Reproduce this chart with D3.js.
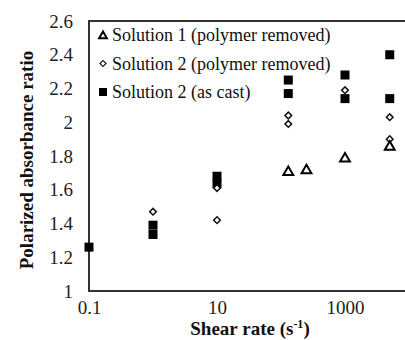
<!DOCTYPE html>
<html>
<head>
<meta charset="utf-8">
<script src="https://cdn.jsdelivr.net/npm/d3@7"></script>
<style>
  body { margin: 0; background: #fff; }
</style>
</head>
<body>
<script>
// data
const s1Rate = [130, 250, 1000, 5000];
const s1Ratio = [1.71, 1.72, 1.79, 1.86];

const s2Rate = [1, 10, 10, 130, 130, 1000, 5000, 5000];
const s2Ratio = [1.47, 1.42, 1.61, 2.04, 1.99, 2.19, 2.03, 1.90];

const castRate = [0.1, 1, 1, 10, 10, 130, 130, 1000, 1000, 5000, 5000];
const castRatio = [1.26, 1.39, 1.335, 1.68, 1.635, 2.25, 2.17, 2.28, 2.14, 2.40, 2.14];

const xTicks = [0.1, 10, 1000];
const yTicks = [1, 1.2, 1.4, 1.6, 1.8, 2, 2.2, 2.4, 2.6];
const legendLabels = ["Solution 1 (polymer removed)", "Solution 2 (polymer removed)", "Solution 2 (as cast)"];

const width = 405, height = 340;
const plotLeft = 89, plotTop = 21, plotRight = 409, plotBottom = 291;
const serif = "'Liberation Serif', 'Times New Roman', monospace";

const svg = d3.select("body").append("svg")
    .attr("width", width)
    .attr("height", height);

const x = d3.scaleLog().domain([0.1, 10000]).range([plotLeft, plotRight]);
const y = d3.scaleLinear().domain([1, 2.6]).range([plotBottom, plotTop]);

// frame
svg.append("rect")
    .attr("x", plotLeft).attr("y", plotTop)
    .attr("width", plotRight - plotLeft).attr("height", plotBottom - plotTop)
    .attr("fill", "none").attr("stroke", "#333").attr("stroke-width", 2);

// axes
const yAxis = svg.append("g")
    .attr("transform", "translate(" + plotLeft + ",0)")
    .call(d3.axisLeft(y).tickValues(yTicks).tickSize(0).tickPadding(16).tickFormat(d => String(+d.toFixed(1))));
const xAxis = svg.append("g")
    .attr("transform", "translate(0," + plotBottom + ")")
    .call(d3.axisBottom(x).tickValues(xTicks).tickSize(0).tickPadding(10).tickFormat(d => String(d)));
[yAxis, xAxis].forEach(g => {
    g.select(".domain").remove();
    g.selectAll("text")
        .style("font-family", serif).style("font-size", "19px")
        .attr("fill", "#222");
});

// axis titles
svg.append("text")
    .attr("transform", "translate(33," + ((plotTop + plotBottom) / 2 + 4) + ") rotate(-90)")
    .attr("text-anchor", "middle")
    .style("font-family", serif).style("font-size", "19px").style("font-weight", "bold")
    .attr("fill", "#111")
    .text("Polarized absorbance ratio");

const xt = svg.append("text")
    .attr("x", 250).attr("y", 335)
    .attr("text-anchor", "middle")
    .style("font-family", serif).style("font-size", "19px").style("font-weight", "bold")
    .attr("fill", "#111");
xt.append("tspan").text("Shear rate (s");
xt.append("tspan").attr("dy", -7).style("font-size", "12px").text("-1");
xt.append("tspan").attr("dy", 7).text(")");

// markers
const tri = d3.symbol().type(d3.symbolTriangle).size(42);
const dia = d3.symbol().type(d3.symbolSquare).size(22);

const plot = svg.append("g");

plot.selectAll(".sq")
    .data(d3.zip(castRate, castRatio))
    .join("rect")
    .attr("x", d => x(d[0]) - 4.5).attr("y", d => y(d[1]) - 4.5)
    .attr("width", 9).attr("height", 9)
    .attr("fill", "#000");

plot.selectAll(".dia")
    .data(d3.zip(s2Rate, s2Ratio))
    .join("path")
    .attr("d", dia)
    .attr("transform", d => "translate(" + x(d[0]) + "," + y(d[1]) + ") rotate(45)")
    .attr("fill", "#fff").attr("stroke", "#111").attr("stroke-width", 1.5);

plot.selectAll(".tri")
    .data(d3.zip(s1Rate, s1Ratio))
    .join("path")
    .attr("d", tri)
    .attr("transform", d => "translate(" + x(d[0]) + "," + (y(d[1]) + 1) + ")")
    .attr("fill", "#fff").attr("stroke", "#000").attr("stroke-width", 2);

// legend
const legend = svg.append("g").attr("transform", "translate(103,35)");
legendLabels.forEach((label, i) => {
    const g = legend.append("g").attr("transform", "translate(0," + (i * 28.5) + ")");
    if (i === 0) {
        g.append("path").attr("d", d3.symbol().type(d3.symbolTriangle).size(26))
            .attr("transform", "translate(0,1)")
            .attr("fill", "#fff").attr("stroke", "#000").attr("stroke-width", 2);
    } else if (i === 1) {
        g.append("path").attr("d", d3.symbol().type(d3.symbolSquare).size(18))
            .attr("transform", "rotate(45)")
            .attr("fill", "#fff").attr("stroke", "#111").attr("stroke-width", 1.2);
    } else {
        g.append("rect").attr("x", -4).attr("y", -4).attr("width", 8).attr("height", 8).attr("fill", "#000");
    }
    g.append("text")
        .attr("x", 9).attr("y", 6)
        .style("font-family", serif).style("font-size", "18px")
        .attr("fill", "#111")
        .text(label);
});
</script>
</body>
</html>
